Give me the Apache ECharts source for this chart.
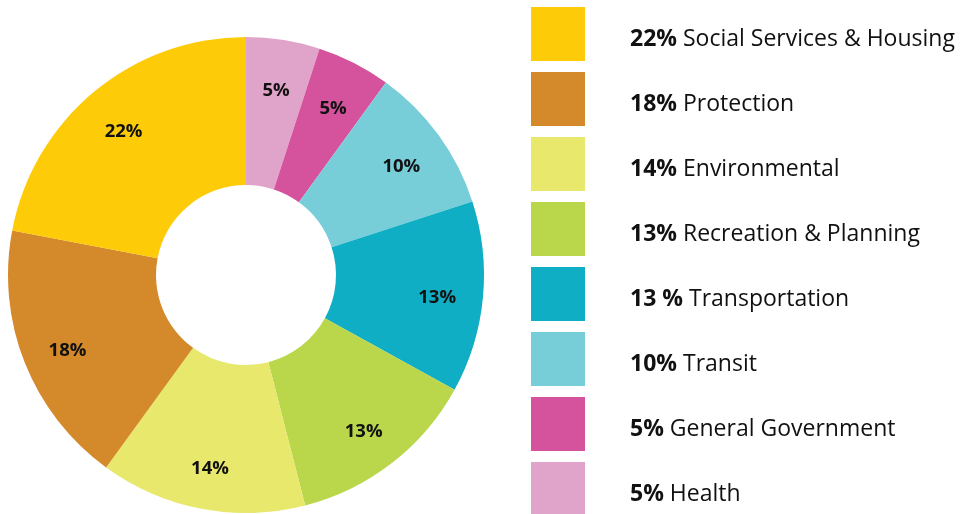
<!DOCTYPE html>
<html><head><meta charset="utf-8">
<script src="https://cdn.jsdelivr.net/npm/echarts@6/dist/echarts.min.js"></script>
<style>html,body{margin:0;padding:0;background:#fff}#c{width:960px;height:514px}</style>
</head><body><div id="c"></div>
<script>
// Data in clockwise order from 12 o'clock
const categories = ['Health','General Government','Transit','Transportation','Recreation & Planning','Environmental','Protection','Social Services & Housing'];
const values = [5,5,10,13,13,14,18,22];
const pctLabels = ['5%','5%','10%','13 %','13%','14%','18%','22%'];
const colors = ['#E0A3C9','#D5529C','#77CED9','#10AEC4','#BAD74B','#E8E86D','#D4892A','#FDCB08'];
const legendOrderA = ['Social Services & Housing','Protection','Environmental','Recreation & Planning','Transportation','Transit','General Government'];
const legendOrderB = ['Health'];

const FONT = '"Open Sans", "Noto Sans", sans-serif';
const data = categories.map((c,i)=>({name:c,value:values[i],itemStyle:{color:colors[i]}}));
function legendCfg(names, top){
  return {
    orient:'vertical', left:531, top:top, padding:0,
    itemWidth:54, itemHeight:54, itemGap:11,
    icon:'rect', data:names, selectedMode:false,
    formatter:function(n){const i=categories.indexOf(n);return '{b|'+pctLabels[i]+'}{r| '+n+'}';},
    textStyle:{
      padding:[10,0,0,40],
      rich:{
        b:{fontFamily:FONT,fontWeight:'bold',fontSize:23,color:'#111'},
        r:{fontFamily:FONT,fontSize:23,color:'#111'}
      }
    }
  };
}
const chart = echarts.init(document.getElementById('c'));
chart.setOption({
  animation:false,
  legend:[legendCfg(legendOrderA,7), legendCfg(legendOrderB,462)],
  series:[
    {
      type:'pie', center:[246,275], radius:[90,238],
      startAngle:90, clockwise:true, silent:true,
      label:{show:false}, labelLine:{show:false},
      data:data
    },
    {
      type:'pie', center:[246,275], radius:[140,238],
      startAngle:90, clockwise:true, silent:true,
      itemStyle:{color:'rgba(0,0,0,0)'},
      label:{show:true,position:'inside',formatter:function(p){return p.value+'%';},
        fontFamily:FONT,fontWeight:'bold',fontSize:18.5,color:'#111'},
      labelLayout:{dy:5},
      labelLine:{show:false},
      data:categories.map((c,i)=>({name:c+' ',value:values[i]}))
    }
  ]
});
</script></body></html>
